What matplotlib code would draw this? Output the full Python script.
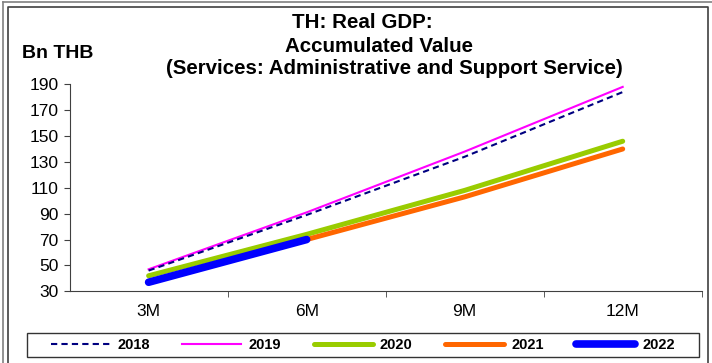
import matplotlib.pyplot as plt
from matplotlib.lines import Line2D
from matplotlib.patches import Rectangle

plt.rcParams['font.family'] = ['Liberation Sans', 'DejaVu Sans']

periods = ['3M', '6M', '9M', '12M']
y2018 = [46, 89, 134, 184]
y2019 = [47, 91, 138, 188]
y2020 = [42, 74, 108, 146]
y2021 = [37, 70, 103, 140]
y2022 = [37, 70]
yticks = [30, 50, 70, 90, 110, 130, 150, 170, 190]

W, H = 712, 363
fig = plt.figure(figsize=(W / 100, H / 100), dpi=100)
ax = fig.add_axes([69.6 / W, 1 - 291.3 / H, (701.7 - 69.6) / W, (291.3 - 84.3) / H])

x = list(range(len(periods)))
ax.plot(x, y2018, color='#000080', lw=1.5, ls=(0, (3, 2)), label='2018', zorder=3)
ax.plot(x, y2019, color='#FF00FF', lw=1.5, label='2019', zorder=2)
ax.plot(x, y2020, color='#99CC00', lw=3.6, label='2020', solid_capstyle='round')
ax.plot(x, y2021, color='#FF6600', lw=3.6, label='2021', solid_capstyle='round')
ax.plot(x[:len(y2022)], y2022, color='#0000FF', lw=5.5, label='2022',
        solid_capstyle='round', zorder=4)

ax.set_xlim(-0.5, len(periods) - 0.5)
ax.set_ylim(30, 190)
ax.set_yticks(yticks)
ax.set_yticklabels([str(v) for v in yticks], fontsize=12.5)
ax.set_xticks(x)
ax.set_xticklabels(periods, fontsize=12.5)
ax.set_xticks([i + 0.5 for i in x], minor=True)
ax.tick_params(axis='x', which='major', length=0, pad=9)
ax.tick_params(axis='x', which='minor', length=4, direction='out', color='#404040')
ax.tick_params(axis='y', length=4, direction='out', color='#404040', pad=4)
for s in ['top', 'right']:
    ax.spines[s].set_visible(False)
for s in ['left', 'bottom']:
    ax.spines[s].set_color('#404040')

fig.text(362 / W, 1 - 23 / H, 'TH: Real GDP:', ha='center', va='center',
         fontsize=14.8, fontweight='bold')
fig.text(379 / W, 1 - 46 / H, 'Accumulated Value', ha='center', va='center',
         fontsize=14.8, fontweight='bold')
fig.text(394 / W, 1 - 69 / H, '(Services: Administrative and Support Service)',
         ha='center', va='center', fontsize=14.8, fontweight='bold')
fig.text(22 / W, 1 - 53 / H, 'Bn THB', ha='left', va='center',
         fontsize=14, fontweight='bold')

# legend: box drawn separately, entries centred inside it
fig.add_artist(Rectangle((27 / W, 1 - 357 / H), 672 / W, 24 / H, transform=fig.transFigure,
                         fill=False, edgecolor='#333333', lw=1.0))
fig.legend(loc='center', bbox_to_anchor=(363 / W, 1 - 345 / H),
           ncol=5, handlelength=4.05, handletextpad=0.48, columnspacing=2.24,
           frameon=False, borderaxespad=0, borderpad=0,
           prop={'weight': 'bold', 'size': 10.5})

# chart frame
fig.add_artist(Line2D([2.5 / W, 2.5 / W], [0, 1 - 1.5 / H], transform=fig.transFigure,
                      color='#808080', lw=1.2))
fig.add_artist(Line2D([2.5 / W, 1], [1 - 1.5 / H, 1 - 1.5 / H], transform=fig.transFigure,
                      color='#808080', lw=1.2))
fig.add_artist(Line2D([8 / W, 8 / W, 708 / W, 708 / W], [0, 1 - 7 / H, 1 - 7 / H, 0],
                      transform=fig.transFigure, color='#404040', lw=1.2))

fig.savefig('out.png', dpi=100)
